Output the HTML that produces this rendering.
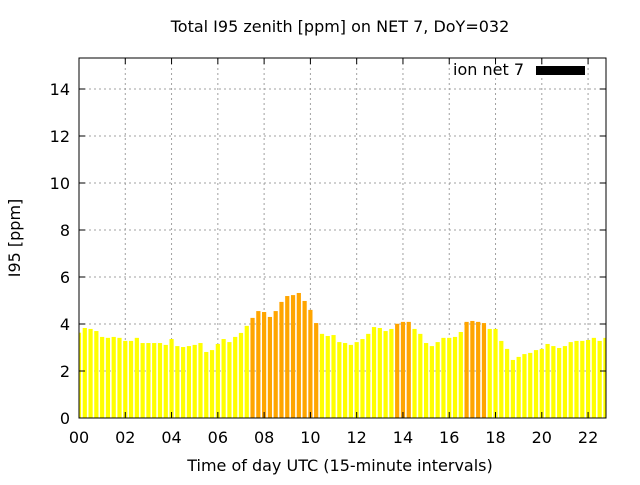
<!DOCTYPE html>
<html><head><meta charset="utf-8"><style>
body{margin:0;background:#fff}
svg text{font-family:"DejaVu Sans","Liberation Sans",sans-serif;font-size:16px;fill:#000}
</style></head><body>
<svg id="chart" width="640" height="480" xmlns="http://www.w3.org/2000/svg">
<text x="340" y="32" text-anchor="middle">Total I95 zenith [ppm] on NET 7, DoY=032</text>
<g id="grid"></g>
<g id="bars"></g>
<g id="axes"></g>
<text transform="translate(20,238) rotate(-90)" text-anchor="middle">I95 [ppm]</text>
<text x="340" y="471" text-anchor="middle">Time of day UTC (15-minute intervals)</text>
<g>
<text x="524" y="75" text-anchor="end">ion net 7</text>
<rect x="536" y="66" width="49" height="9" fill="#000"/>
</g>
</svg>
<script>
const values=[3.63,3.83,3.79,3.70,3.45,3.41,3.45,3.41,3.28,3.28,3.41,3.19,3.19,3.19,3.19,3.11,3.36,3.06,3.02,3.06,3.11,3.19,2.81,2.89,3.15,3.36,3.23,3.45,3.62,3.92,4.26,4.55,4.51,4.30,4.55,4.94,5.19,5.23,5.32,4.98,4.60,4.04,3.58,3.49,3.53,
3.23,3.19,3.11,3.23,3.36,3.58,3.87,3.83,3.70,3.79,4.01,4.09,4.09,3.79,3.58,3.19,3.06,3.23,3.41,3.41,3.45,3.66,4.09,4.13,4.09,4.04,3.79,3.79,3.28,2.94,2.47,2.60,2.72,2.77,2.89,2.94,3.15,3.06,2.98,3.06,3.23,3.28,3.28,3.32,3.41,3.28,3.41];
const xTicks=["00","02","04","06","08","10","12","14","16","18","20","22"];
const yTicks=[0,2,4,6,8,10,12,14];
const threshold=4.0;
const L=79,R=606,T=58,B=418;
const xs=h=>L+h*23.14;
const ys=v=>B-v*23.5;
const NS="http://www.w3.org/2000/svg";
function mk(t,a,p){const e=document.createElementNS(NS,t);for(const k in a)e.setAttribute(k,a[k]);p.appendChild(e);return e;}
const svg=document.getElementById('chart');
const defs=mk('defs',{},svg);
const cp=mk('clipPath',{id:'pc'},defs);
mk('rect',{x:L,y:T,width:R-L,height:B-T},cp);
const grid=document.getElementById('grid');
yTicks.forEach(v=>{
 if(v>0){const g=mk('line',{x1:L,x2:R,y1:ys(v),y2:ys(v),stroke:'#a0a0a0','stroke-dasharray':'2,3'},grid);
 
 }
});
xTicks.forEach((t,i)=>{
 if(i>0){const g=mk('line',{x1:xs(i*2),x2:xs(i*2),y1:T,y2:B,stroke:'#a0a0a0','stroke-dasharray':'2,3'},grid);
 
 }
});
const bars=document.getElementById('bars');
bars.setAttribute('clip-path','url(#pc)');
values.forEach((v,i)=>{
 const cx=xs(i*0.25);
 const r=mk('rect',{x:cx-2.1,y:ys(v),width:4.2,height:B-ys(v),fill:v>=threshold?'#ffa500':'#ffff00'},bars);
 
 
});
const ax=document.getElementById('axes');
mk('rect',{x:L,y:T,width:R-L,height:B-T,fill:'none',stroke:'#000','stroke-width':1},ax);
yTicks.forEach(v=>{
 mk('line',{x1:L,x2:L+6,y1:ys(v),y2:ys(v),stroke:'#000'},ax);
 mk('line',{x1:R,x2:R-6,y1:ys(v),y2:ys(v),stroke:'#000'},ax);
 const t=mk('text',{x:L-9,y:ys(v)+6,'text-anchor':'end'},ax);t.textContent=v;
 
 
});
xTicks.forEach((s,i)=>{
 const x=xs(i*2);
 mk('line',{x1:x,x2:x,y1:B,y2:B-6,stroke:'#000'},ax);
 mk('line',{x1:x,x2:x,y1:T,y2:T+6,stroke:'#000'},ax);
 const t=mk('text',{x:x,y:443,'text-anchor':'middle'},ax);t.textContent=s;
 
 
});
</script>
</body></html>
